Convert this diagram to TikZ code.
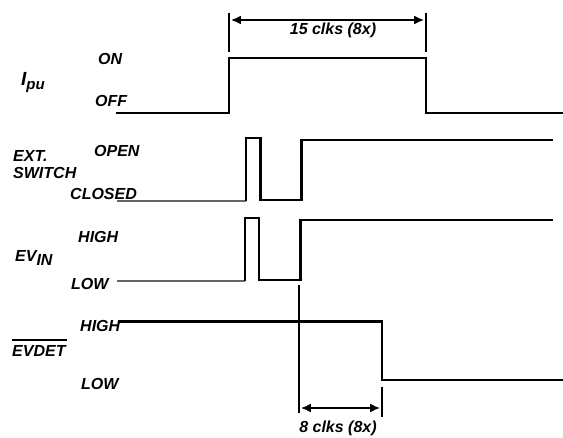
\documentclass[tikz,border=0pt]{standalone}
\usepackage{fontspec}
\setmainfont{Liberation Sans}
\usetikzlibrary{arrows.meta}
\begin{document}
\begin{tikzpicture}[x=1pt,y=-1pt,
  wave/.style={line width=2.6pt,line join=miter},
  thinwave/.style={line width=1.4pt,draw=black!60},
  tick/.style={line width=2.6pt},
  dimarrow/.style={line width=2.4pt,{Latex[length=10pt,width=9pt]}-{Latex[length=10pt,width=9pt]}},
  lbl/.style={anchor=base west,inner sep=0pt,font=\fontsize{16}{19}\selectfont\bfseries\itshape},
  dimlbl/.style={anchor=base,inner sep=0pt,font=\fontsize{16}{19}\selectfont\bfseries\itshape}]
\useasboundingbox (0,0) rectangle (563,438);
% labels
\node[lbl] (ipu) at (21,86) {{\fontsize{19}{21}\selectfont I}\raisebox{-4pt}{\fontsize{15}{17}\selectfont pu}};
\node[lbl] (on) at (98,65) {ON};
\node[lbl] (off) at (95,107) {OFF};
\node[lbl] (ext) at (13,162) {EXT.};
\node[lbl] (sw) at (13,179) {SWITCH};
\node[lbl] (open) at (94,157) {OPEN};
\node[lbl] (closed) at (70,200) {CLOSED};
\node[lbl] (evin) at (15,262) {EV\raisebox{-4pt}{IN}};
\node[lbl] (high1) at (78,243) {HIGH};
\node[lbl] (low1) at (71,290) {LOW};
\node[lbl] (high2) at (80,332) {HIGH};
\node[lbl] (evdet) at (12,357) {EVDET};
\draw[line width=1.3pt] (12,340) -- (66.5,340);
\node[lbl] (low2) at (81,390) {LOW};
% Ipu waveform
\draw[wave] (116,113) -- (229,113) -- (229,58) -- (426,58) -- (426,113) -- (563,113);
\coordinate (t1a) at (229,13); \coordinate (t1b) at (229,52);
\coordinate (t2a) at (426,13); \coordinate (t2b) at (426,52);
\draw[tick] (t1a) -- (t1b);
\draw[tick] (t2a) -- (t2b);
\coordinate (d1a) at (230.8,20); \coordinate (d1b) at (424.2,20);
\draw[dimarrow] (d1a) -- (d1b);
\node[dimlbl] (dim1) at (333,35) {15 clks (8x)};
% EXT SWITCH waveform
\draw[thinwave] (117,201) -- (246,201);
\draw[wave] (246,201) -- (246,138) -- (260.5,138) -- (260.5,200) -- (301.5,200) -- (301.5,140) -- (553,140);
% EVIN waveform
\draw[thinwave] (117,281) -- (245,281);
\draw[wave] (245,281) -- (245,218) -- (259,218) -- (259,280) -- (300.5,280) -- (300.5,220) -- (553,220);
% EVDET waveform
\draw[wave] (119,321.5) -- (382,321.5) -- (382,380) -- (563,380);
% second dimension
\coordinate (t3a) at (299,285); \coordinate (t3b) at (299,413);
\coordinate (t4a) at (382,387); \coordinate (t4b) at (382,417);
\draw[tick] (t3a) -- (t3b);
\draw[tick] (t4a) -- (t4b);
\coordinate (d2a) at (300.8,408); \coordinate (d2b) at (380.2,408);
\draw[dimarrow] (d2a) -- (d2b);
\node[dimlbl] (dim2) at (338,433) {8 clks (8x)};
\end{tikzpicture}
\end{document}
